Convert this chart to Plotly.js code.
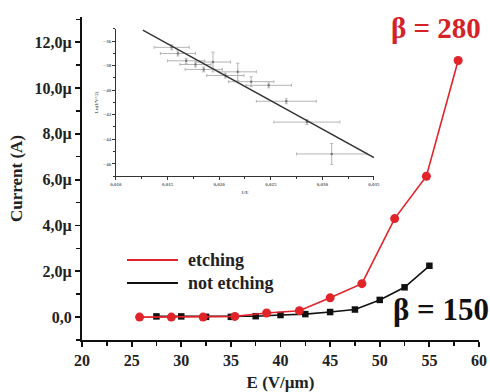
<!DOCTYPE html>
<html><head><meta charset="utf-8">
<script src="https://cdn.plot.ly/plotly-3.0.1.min.js"></script>
<style>html,body{margin:0;padding:0;background:#fff}#chart{width:490px;height:392px}</style>
</head><body><div id="chart"></div>
<script>
// Main chart data (E in V/µm, current in µA)
const etchingE = [25.8, 29.0, 32.2, 35.4, 38.6, 41.9, 45.0, 48.2, 51.5, 54.7, 57.9];
const etchingI = [0.0, 0.0, 0.0, 0.03, 0.18, 0.28, 0.84, 1.46, 4.3, 6.15, 11.2];
const notEtchingE = [27.5, 30.0, 32.5, 35.0, 37.5, 40.0, 42.5, 45.0, 47.5, 50.0, 52.5, 55.0];
const notEtchingI = [0.03, 0.03, 0.01, 0.01, 0.04, 0.09, 0.13, 0.22, 0.33, 0.75, 1.3, 2.24];
const yTickVals = [0, 2, 4, 6, 8, 10, 12];
const yTickText = ["0,0", "2,0\u00b5", "4,0\u00b5", "6,0\u00b5", "8,0\u00b5", "10,0\u00b5", "12,0\u00b5"];
const xTickVals = [20, 25, 30, 35, 40, 45, 50, 55, 60];

// Inset (Fowler-Nordheim) data
const fnX = [0.0154, 0.0160, 0.0168, 0.0177, 0.0185, 0.0194, 0.0206, 0.0218, 0.0231, 0.0248, 0.0265, 0.0285, 0.0309];
const fnY = [-36.5, -37.0, -37.6, -37.9, -38.3, -37.7, -38.8, -38.5, -39.3, -39.6, -40.9, -42.6, -45.2];
const fnXerr = [0.0017, 0.0017, 0.0018, 0.0015, 0.0018, 0.0017, 0.0018, 0.0018, 0.0022, 0.0022, 0.0029, 0.0032, 0.0034];
const fnYerr = [0.2, 0.2, 0.2, 0.2, 0.2, 0.8, 0.2, 0.7, 0.4, 0.2, 0.2, 0.2, 0.85];
const fitX = [0.0126, 0.035];
const fitY = [-35.1, -45.5];
const insetXTickVals = [0.010, 0.015, 0.020, 0.025, 0.030, 0.035];
const insetXTickText = ["0,010", "0,015", "0,020", "0,025", "0,030", "0,035"];
const insetYTickVals = [-46, -44, -42, -40, -38, -36];

const serif = "Liberation Serif";
const RED = "#e0242a";

const traces = [
  {x: notEtchingE, y: notEtchingI, mode: "lines+markers", name: "not etching",
   line: {color: "#111", width: 1.6}, marker: {symbol: "square", size: 6.5, color: "#111"}, showlegend: false},
  {x: etchingE, y: etchingI, mode: "lines+markers", name: "etching",
   line: {color: RED, width: 1.6}, marker: {symbol: "circle", size: 9, color: RED}, showlegend: false},
  {x: fnX, y: fnY, xaxis: "x2", yaxis: "y2", mode: "markers", showlegend: false,
   marker: {size: 2.5, color: "#777"},
   error_x: {type: "data", array: fnXerr, color: "#b5b5b5", thickness: 1, width: 1.5},
   error_y: {type: "data", array: fnYerr, color: "#b5b5b5", thickness: 1, width: 1.5}},
  {x: fitX, y: fitY, xaxis: "x2", yaxis: "y2", mode: "lines", showlegend: false,
   line: {color: "#333", width: 1.4}}
];

const layout = {
  width: 490, height: 392,
  margin: {l: 82, r: 11, t: 17, b: 52},
  paper_bgcolor: "#fff", plot_bgcolor: "rgba(0,0,0,0)",
  showlegend: false,
  font: {family: serif, color: "#111"},
  xaxis: {
    range: [20, 60], tickvals: xTickVals, ticks: "outside", ticklen: 5, tickwidth: 1.8,
    tickcolor: "#111", showline: true, linecolor: "#111", linewidth: 2, showgrid: false, zeroline: false,
    tickfont: {family: serif, size: 16, weight: "bold", color: "#222"},
    minor: {dtick: 2.5, tick0: 20, ticks: "outside", ticklen: 4, tickwidth: 1.5, tickcolor: "#111", showgrid: false},
    title: {text: "E (V/\u00b5m)", font: {family: serif, size: 17, weight: "bold", color: "#222"}, standoff: 9},
    automargin: false, fixedrange: true
  },
  yaxis: {
    range: [-1, 13.1], tickvals: yTickVals, ticktext: yTickText, ticks: "outside", ticklen: 5, tickwidth: 1.8,
    tickcolor: "#111", showline: true, linecolor: "#111", linewidth: 2, showgrid: false, zeroline: false,
    tickfont: {family: serif, size: 16, weight: "bold", color: "#222"},
    minor: {dtick: 1, tick0: 0, ticks: "outside", ticklen: 4, tickwidth: 1.5, tickcolor: "#111", showgrid: false},
    title: {text: "Current (A)", font: {family: serif, size: 17, weight: "bold", color: "#222"}, standoff: 8},
    automargin: false, fixedrange: true
  },
  xaxis2: {
    domain: [0.0856, 0.7355], anchor: "y2", range: [0.010, 0.035],
    tickvals: insetXTickVals, ticktext: insetXTickText, ticks: "outside", ticklen: 2.5, tickwidth: 1,
    tickcolor: "#333", showline: true, linecolor: "#333", linewidth: 1.3, showgrid: false, zeroline: false,
    tickfont: {family: serif, size: 5, weight: "bold", color: "#666"},
    minor: {dtick: 0.0025, tick0: 0.010, ticks: "outside", ticklen: 1.5, tickwidth: 1, tickcolor: "#333", showgrid: false},
    title: {text: "1/E", font: {family: serif, size: 5, weight: "bold", color: "#666"}, standoff: 4},
    automargin: false
  },
  yaxis2: {
    domain: [0.5077, 0.963], anchor: "x2", range: [-47, -35],
    tickvals: insetYTickVals, ticks: "outside", ticklen: 2.5, tickwidth: 1,
    tickcolor: "#333", showline: true, linecolor: "#333", linewidth: 1.3, showgrid: false, zeroline: false,
    tickfont: {family: serif, size: 5, weight: "bold", color: "#666"},
    minor: {dtick: 1, tick0: -47, ticks: "outside", ticklen: 1.5, tickwidth: 1, tickcolor: "#333", showgrid: false},
    title: {text: "Ln(I/V^2)", font: {family: serif, size: 5, weight: "bold", color: "#666"}, standoff: 4},
    automargin: false
  },
  shapes: [
    {type: "line", xref: "paper", yref: "paper", x0: 0.1134, x1: 0.2418, y0: 0.2477, y1: 0.2477, line: {color: RED, width: 2}},
    {type: "line", xref: "paper", yref: "paper", x0: 0.1134, x1: 0.2418, y0: 0.1765, y1: 0.1765, line: {color: "#111", width: 2}}
  ],
  annotations: [
    {xref: "paper", yref: "paper", x: 0.262, y: 0.2477, xanchor: "left", yanchor: "middle", showarrow: false,
     text: "etching", font: {family: serif, size: 18, weight: "bold", color: "#222"}},
    {xref: "paper", yref: "paper", x: 0.262, y: 0.1765, xanchor: "left", yanchor: "middle", showarrow: false,
     text: "not etching", font: {family: serif, size: 18, weight: "bold", color: "#222"}},
    {xref: "paper", yref: "paper", x: 0.8917, y: 0.966, xanchor: "center", yanchor: "middle", showarrow: false,
     text: "\u03b2 = 280", font: {family: serif, size: 29, weight: "bold", color: "#d42228"}},
    {xref: "paper", yref: "paper", x: 0.904, y: 0.093, xanchor: "center", yanchor: "middle", showarrow: false,
     text: "\u03b2 = 150", font: {family: serif, size: 31, weight: "bold", color: "#111"}}
  ]
};

Plotly.newPlot("chart", traces, layout, {displayModeBar: false, staticPlot: true});
</script></body></html>
